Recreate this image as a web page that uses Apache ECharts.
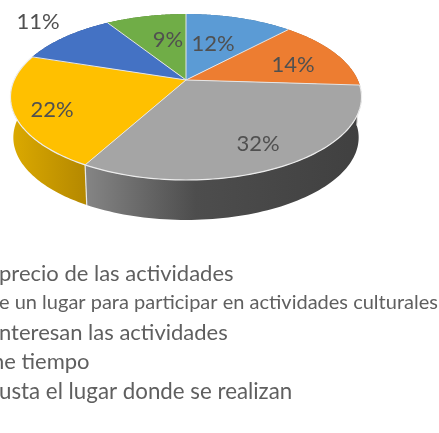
<!DOCTYPE html>
<html>
<head>
<meta charset="utf-8">
<style>html,body{margin:0;padding:0;background:#fff;overflow:hidden}#c{width:439px;height:433px}</style>
<script src="https://cdn.jsdelivr.net/npm/echarts@6/dist/echarts.min.js"></script>
</head>
<body>
<div id="c"></div>
<script>
// Data
const sliceValues = [12, 14, 32, 22, 11, 9];
const sliceLabels = ['12%', '14%', '32%', '22%', '11%', '9%'];
const legendLines = [
  'precio de las actividades',
  'e un lugar para participar en actividades culturales',
  'nteresan las actividades',
  'ne tiempo',
  'usta el lugar donde se realizan'
];

// Styles and layout
const topColors = ['#5b9bd5', '#ed7d31', '#a5a5a5', '#ffc000', '#4472c4', '#70ad47'];
const sideStops = [
  ['#3f6d96', '#3f6d96'], ['#a6561f', '#a6561f'], ['#858585', '#404040'],
  ['#dcaa00', '#b48800'], ['#2f5088', '#2f5088'], ['#4e7931', '#4e7931']
];
const rimSlices = [2, 3];
const labelOffsets = [[27, -36], [107, -15], [72, 64], [-134, 30], [-148, -58], [-18, -40]];
const legendX = [-1, -1, -1, -8, -1];
const legendY = [274, 303, 333, 362, 392];
const legendSize = [22, 20, 22, 22, 22.3];
const topDisc = { cx: 186, cy: 80, a: 171.8, b: 79.5, k: 0.205 };
const baseDisc = { cx: 186, cy: 120.6, a: 169, b: 79, k: 0.205 };
const total = sliceValues.reduce((s, v) => s + v, 0);

function project(d, theta) {
  const u = Math.sin(theta), v = -Math.cos(theta), w = 1 - d.k * v;
  return [d.cx + d.a * u / w, d.cy + d.b * v / w];
}
function arc(d, t0, t1) {
  const n = 80, pts = [];
  for (let i = 0; i <= n; i++) pts.push(project(d, t0 + (t1 - t0) * i / n));
  return pts;
}
function range(i) {
  let sum = 0;
  for (let j = 0; j < i; j++) sum += sliceValues[j];
  return [sum / total * 2 * Math.PI, (sum + sliceValues[i]) / total * 2 * Math.PI];
}

const chart = echarts.init(document.getElementById('c'), null, { renderer: 'canvas' });
chart.setOption({
  animation: false,
  backgroundColor: '#ffffff',
  graphic: legendLines.map((t, i) => ({
    type: 'text', x: legendX[i], y: legendY[i], silent: true,
    style: { text: t, fill: '#5f5f5f', font: legendSize[i] + 'px Lato', textVerticalAlign: 'middle', textBaseline: 'middle' }
  })),
  series: [
    {
      type: 'custom', coordinateSystem: 'none', silent: true, z: 1,
      data: sliceValues.map((v, i) => [v, i]),
      renderItem(params, api) {
        const i = api.value(1), [t0, t1] = range(i);
        const top = arc(topDisc, t0, t1), base = arc(baseDisc, t0, t1);
        const xs = top.concat(base).map(p => p[0]);
        const fill = new echarts.graphic.LinearGradient(
          Math.min(...xs), 0, Math.max(...xs), 0,
          [{ offset: 0, color: sideStops[i][0] }, { offset: i === 2 ? 0.4 : 1, color: i === 2 ? '#4d4d4d' : sideStops[i][1] }, { offset: 1, color: sideStops[i][1] }],
          true);
        return {
          type: 'group',
          children: [
            { type: 'polygon', shape: { points: top.concat(base.slice().reverse()) }, style: { fill } },
            { type: 'line', shape: { x1: top[0][0], y1: top[0][1], x2: base[0][0], y2: base[0][1] }, style: { stroke: '#e8e8e8', lineWidth: 1.2 } }
          ]
        };
      }
    },
    {
      type: 'custom', coordinateSystem: 'none', silent: true, z: 2,
      data: sliceValues.map((v, i) => [v, i]),
      renderItem(params, api) {
        const i = api.value(1), [t0, t1] = range(i);
        const outer = arc(topDisc, t0, t1);
        const hub = [topDisc.cx, topDisc.cy];
        const children = [{ type: 'polygon', shape: { points: [hub].concat(outer) }, style: { fill: topColors[i] } }];
        return { type: 'group', children };
      }
    },
    {
      type: 'custom', coordinateSystem: 'none', silent: true, z: 3,
      data: sliceValues.map((v, i) => [v, i]),
      renderItem(params, api) {
        const i = api.value(1), [t0, t1] = range(i);
        const outer = arc(topDisc, t0, t1);
        const children = [{ type: 'line', shape: { x1: topDisc.cx, y1: topDisc.cy, x2: outer[0][0], y2: outer[0][1] }, style: { stroke: '#e6e6e6', lineWidth: 1 } }];
        if (rimSlices.includes(i)) children.push({ type: 'polyline', shape: { points: outer }, style: { stroke: '#ececec', lineWidth: 1.2, fill: 'none' } });
        return { type: 'group', children };
      }
    },
    {
      type: 'custom', coordinateSystem: 'none', silent: true, z: 4,
      data: sliceValues.map((v, i) => [v, i]),
      renderItem(params, api) {
        const i = api.value(1);
        return {
          type: 'text', x: topDisc.cx + labelOffsets[i][0], y: topDisc.cy + labelOffsets[i][1],
          style: { text: sliceLabels[i], fill: '#505050', font: '22px Lato', textAlign: 'center', textVerticalAlign: 'middle', textBaseline: 'middle' }
        };
      }
    }
  ]
});
</script>
</body>
</html>
